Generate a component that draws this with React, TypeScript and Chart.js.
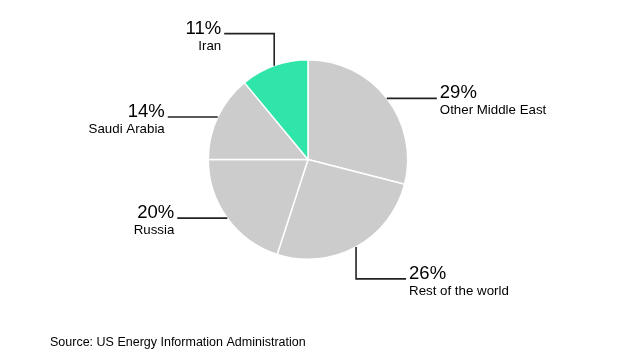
import React, { useEffect, useRef } from "react";
import { Chart, registerables } from "chart.js";

Chart.register(...registerables);

const categories = ["Other Middle East", "Rest of the world", "Russia", "Saudi Arabia", "Iran"];
const shares = [29, 26, 20, 14, 11];
const pctLabels = ["29%", "26%", "20%", "14%", "11%"];
const sliceColors = ["#cccccc", "#cccccc", "#cccccc", "#cccccc", "#30e5aa"];
const sourceText = "Source: US Energy Information Administration";

const FONT = "'Liberation Sans', Arial, Helvetica, sans-serif";

// leader routing per slice: 'h' = straight horizontal, 'vh' = vertical then horizontal
const routes = ["h", "vh", "h", "h", "vh"];

const labelPlugin = {
  id: "leaderLabels",
  afterDraw(chart: any) {
    const ctx = chart.ctx;
    const meta = chart.getDatasetMeta(0);
    const H = 50;
    const V = 32;
    ctx.save();
    meta.data.forEach((arc: any, i: number) => {
      const p = arc.getProps(["x", "y", "startAngle", "endAngle", "outerRadius"], true);
      const a = (p.startAngle + p.endAngle) / 2;
      const ax = p.x + p.outerRadius * Math.cos(a);
      const ay = p.y + p.outerRadius * Math.sin(a);
      const sx = Math.cos(a) >= 0 ? 1 : -1;
      const sy = Math.sin(a) >= 0 ? 1 : -1;
      let ex: number, ey: number;
      ctx.beginPath();
      ctx.strokeStyle = "#222";
      ctx.lineWidth = 1.6;
      ctx.moveTo(ax, ay);
      if (routes[i] === "vh") {
        const my = ay + sy * V;
        ctx.lineTo(ax, my);
        ex = ax + sx * H;
        ey = my;
        ctx.lineTo(ex, ey);
      } else {
        ex = ax + sx * H;
        ey = ay;
        ctx.lineTo(ex, ey);
      }
      ctx.stroke();
      const tx = ex + sx * 3;
      ctx.textAlign = sx > 0 ? "left" : "right";
      ctx.textBaseline = "alphabetic";
      ctx.fillStyle = "#000";
      ctx.font = `18.5px ${FONT}`;
      ctx.fillText(pctLabels[i], tx, ey);
      ctx.font = `13.3px ${FONT}`;
      ctx.fillText(categories[i], tx, ey + 16);
    });
    ctx.textAlign = "left";
    ctx.font = `12.5px ${FONT}`;
    ctx.fillStyle = "#000";
    ctx.fillText(sourceText, 50, 346);
    ctx.restore();
  },
};

export default function App() {
  const ref = useRef<HTMLCanvasElement>(null);
  useEffect(() => {
    document.body.style.margin = "0";
    const chart = new Chart(ref.current as HTMLCanvasElement, {
      type: "pie",
      data: {
        labels: categories,
        datasets: [
          {
            data: shares,
            backgroundColor: sliceColors,
            borderColor: "#ffffff",
            borderWidth: 1.5,
            hoverOffset: 0,
          },
        ],
      },
      options: {
        responsive: false,
        animation: false,
        devicePixelRatio: 1,
        layout: { padding: { top: 59, bottom: 99, left: 0, right: 2 } },
        plugins: { legend: { display: false }, tooltip: { enabled: false } },
      },
      plugins: [labelPlugin],
    });
    return () => chart.destroy();
  }, []);
  return (
    <div style={{ width: 618, height: 359, background: "#fff" }}>
      <canvas ref={ref} width={618} height={359} />
    </div>
  );
}
